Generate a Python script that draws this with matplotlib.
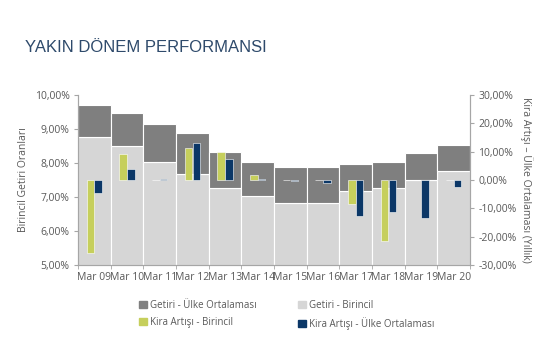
import numpy as np
import matplotlib.pyplot as plt
from matplotlib.ticker import FuncFormatter, MultipleLocator
from matplotlib.patches import Patch

# Data
years = ['Mar 09', 'Mar 10', 'Mar 11', 'Mar 12', 'Mar 13', 'Mar 14',
         'Mar 15', 'Mar 16', 'Mar 17', 'Mar 18', 'Mar 19', 'Mar 20']
getiri_birincil = [8.77, 8.50, 8.02, 7.67, 7.27, 7.03, 6.83, 6.83, 7.18, 7.27, 7.50, 7.76]
getiri_ulke = [9.71, 9.48, 9.14, 8.89, 8.31, 8.02, 7.87, 7.87, 7.97, 8.04, 8.28, 8.53]
kira_birincil = [-25.9, 9.2, 0.0, 11.2, 10.0, 1.9, 0.0, 0.0, -8.5, -21.5, 0.0, 0.0]
kira_ulke = [-4.5, 3.8, 0.3, 13.2, 7.3, 0.3, -0.4, -1.2, -12.7, -11.3, -13.5, -2.4]

c_dark = '#7f7f7f'
c_light = '#d6d6d6'
c_yellow = '#c6cf5c'
c_blue = '#0b3767'
c_text = '#595959'

plt.rcParams['font.family'] = ['Open Sans', 'DejaVu Sans']

fig = plt.figure(figsize=(5.55, 3.55), dpi=100)
ax = fig.add_axes([0.1405, 0.2535, 0.7065, 0.479])
ax2 = ax.twinx()

x = np.arange(len(years))
base = 5.0
light_h = np.array(getiri_birincil) - base
dark_h = np.array(getiri_ulke) - np.array(getiri_birincil)

ax.bar(x, light_h, bottom=base, width=1.0, color=c_light, edgecolor='white', linewidth=0.8, zorder=1)
ax.bar(x, dark_h, bottom=getiri_birincil, width=1.0, color=c_dark, edgecolor='white', linewidth=0.8, zorder=1)

ax2.bar(x - 0.12, kira_birincil, width=0.23, color=c_yellow, edgecolor='white', linewidth=0.4, zorder=3)
ax2.bar(x + 0.12, kira_ulke, width=0.23, color=c_blue, edgecolor='white', linewidth=0.4, zorder=3)

ax.set_xlim(-0.5, len(years) - 0.5)
ax.set_ylim(5, 10)
ax2.set_ylim(-30, 30)
ax.yaxis.set_major_locator(MultipleLocator(1))
ax2.yaxis.set_major_locator(MultipleLocator(10))

pct = FuncFormatter(lambda v, p: f'{v:.2f}%'.replace('.', ','))
ax.yaxis.set_major_formatter(pct)
ax2.yaxis.set_major_formatter(pct)

ax.set_xticks(x)
ax.set_xticklabels(years)
ax.set_xticks(np.arange(-0.5, len(years), 1.0), minor=True)
ax.tick_params(axis='x', which='major', length=0, pad=5, labelsize=7.5, colors=c_text)
ax.tick_params(axis='x', which='minor', length=3, color='#a6a6a6', direction='out')
ax.tick_params(axis='y', length=3, color='#a6a6a6', labelsize=7.5, labelcolor=c_text, pad=3)
ax2.tick_params(axis='y', length=3, color='#a6a6a6', labelsize=7.5, labelcolor=c_text, pad=3)

for a in (ax, ax2):
    a.spines['top'].set_visible(False)
    for s in ('left', 'right', 'bottom'):
        a.spines[s].set_color('#a6a6a6')
        a.spines[s].set_linewidth(0.8)

ax.set_ylabel('Birincil Getiri Oranları', fontsize=7.5, color=c_text, labelpad=4)
ax2.set_ylabel('Kira Artışı – Ülke Ortalaması (Yıllık)', fontsize=7.5, color=c_text,
               rotation=270, labelpad=12)

fig.text(0.045, 0.865, 'YAKIN DÖNEM PERFORMANSI', fontsize=12, color='#2e4a6b',
         family='Liberation Sans', va='center')

handles = [Patch(color=c_dark), Patch(color=c_light), Patch(color=c_yellow), Patch(color=c_blue)]
labels = ['Getiri - Ülke Ortalaması', 'Getiri - Birincil',
          'Kira Artışı - Birincil', 'Kira Artışı - Ülke Ortalaması']
# order for 2 columns filled row-wise
order = [0, 2, 1, 3]
fig.legend([handles[i] for i in order], [labels[i] for i in order], ncol=2,
           loc='center left', bbox_to_anchor=(0.235, 0.113), frameon=False,
           fontsize=7, labelcolor=c_text, handlelength=0.8, handleheight=0.8,
           handletextpad=0.3, columnspacing=4.3, labelspacing=0.65)

fig.savefig('out.png', dpi=100)
